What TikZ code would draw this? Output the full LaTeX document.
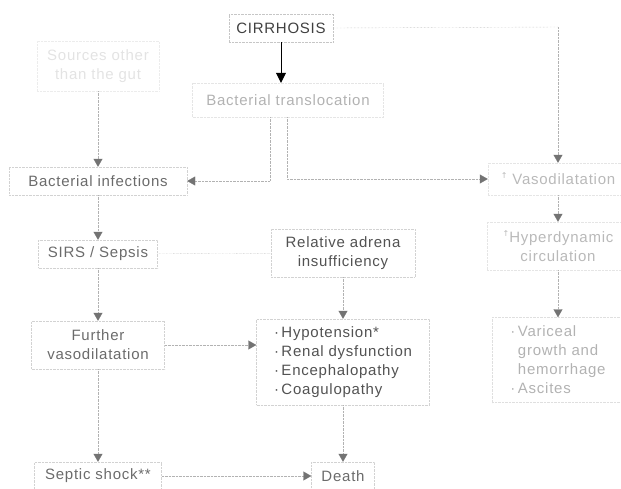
\documentclass[tikz,border=0pt]{standalone}
\usepackage{fontspec}
\setmainfont[LetterSpace=5]{Liberation Sans}
\newfontfamily\symfont{DejaVu Sans}
\usetikzlibrary{arrows.meta}

\newcommand{\upar}{{\symfont\fontsize{8}{8}\selectfont\raisebox{6pt}{↑}}}
\newcommand{\bul}{·\,}

\begin{document}
\begin{tikzpicture}[x=1pt, y=-1pt,
    box/.style={draw=gray!35, densely dotted, inner sep=0pt, align=center, font=\fontsize{15}{19}\selectfont},
    con/.style={draw=gray!60, densely dotted, -{Triangle[width=9pt,length=8pt,color=black!55]}},
    link/.style={draw=gray!60, densely dotted}]
    \useasboundingbox (0,0) rectangle (621,488);

    % left column
    \node[box, text=gray!22, draw=gray!15, minimum width=122pt, minimum height=50pt] (src) at (98,66) {Sources other\\than the gut};
    \node[box, text=black!58, minimum width=178pt, minimum height=28pt] (infect) at (98,181) {Bacterial infections};
    \node[box, text=black!58, minimum width=119pt, minimum height=28pt] (sirs) at (98,254) {SIRS / Sepsis};
    \node[box, text=black!58, minimum width=133pt, minimum height=48pt] (further) at (98,345) {Further\\vasodilatation};
    \node[box, text=black!58, minimum width=127pt, minimum height=28pt] (septic) at (98,476) {Septic shock**};

    % middle column
    \node[box, text=black!75, draw=gray!45, minimum width=104pt, minimum height=28pt] (cirr) at (281,28) {CIRRHOSIS};
    \node[box, text=gray!60, draw=gray!20, minimum width=191pt, minimum height=34pt] (transl) at (288,100) {Bacterial translocation};
    \node[box, text=black!68, minimum width=144pt, minimum height=48pt] (adren) at (343,253) {Relative adrena\\insufficiency};
    \node[box, text=black!68, align=left, minimum width=173pt, minimum height=86pt] (hypo) at (343,362)
        {\bul Hypotension*\\\bul Renal dysfunction\\\bul Encephalopathy\\\bul Coagulopathy};
    \node[box, text=black!58, minimum width=63pt, minimum height=28pt] (death) at (343,476) {Death};

    % right column
    \node[box, text=gray!55, draw=gray!20, minimum width=140pt, minimum height=32pt] (vaso) at (558,179) {\upar\ Vasodilatation};
    \node[box, text=gray!55, draw=gray!20, minimum width=142pt, minimum height=48pt] (hyper) at (558,246) {\upar Hyperdynamic\\circulation};
    \node[box, text=gray!60, draw=gray!25, align=left, minimum width=132pt, minimum height=85pt] (varic) at (558,360)
        {\bul Variceal\\\phantom{\bul}growth and\\\phantom{\bul}hemorrhage\\\bul Ascites};

    \coordinate (rtop) at (558,27);

    \draw[black, -{Triangle[width=10pt,length=10pt]}] (cirr) -- (cirr |- transl.north);
    \draw[link] (cirr.east) -- (rtop);
    \draw[con] (rtop) -- (vaso);
    \draw[con] (src) -- (infect);
    \draw[con] ([xshift=-18pt]transl.south) |- (infect.east);
    \draw[con] ([xshift=-1pt]transl.south) |- (vaso.west);
    \draw[con] (infect) -- (sirs);
    \draw[link] (sirs) -- (adren);
    \draw[con] (sirs) -- (further);
    \draw[con] (further.east) -- (further.east -| hypo.west);
    \draw[con] (further) -- (septic);
    \draw[con] (adren) -- (hypo);
    \draw[con] (hypo) -- (death);
    \draw[con] (septic) -- (death);
    \draw[con] (vaso) -- (hyper);
    \draw[con] (hyper) -- (varic);
\end{tikzpicture}
\end{document}
